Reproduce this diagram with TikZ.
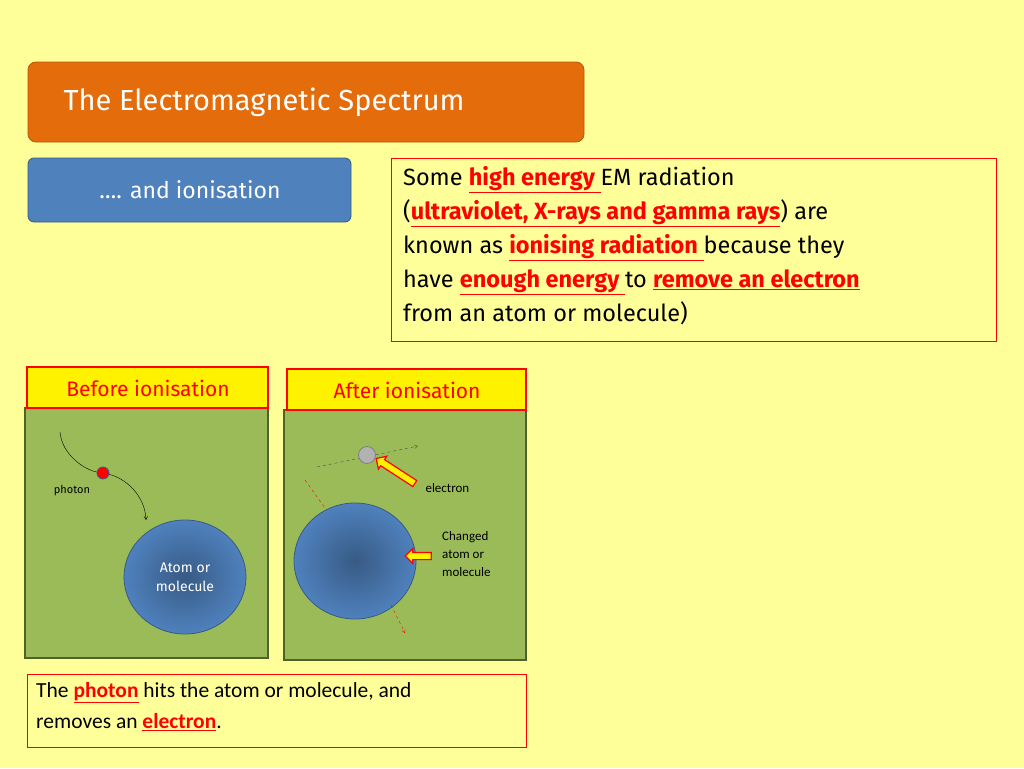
\documentclass[tikz,border=0pt]{standalone}
\usepackage{fontspec}
\setmainfont{Carlito}
\newfontfamily\comic{Fira Sans}
\usetikzlibrary{positioning, shapes, shapes.arrows, arrows}
\definecolor{bgyel}{HTML}{FFFF99}
\definecolor{orng}{HTML}{E46C0A}
\definecolor{blu}{HTML}{4F81BD}
\definecolor{grn}{HTML}{9BBB59}
\definecolor{dgrn}{HTML}{4F6228}
\newcommand{\hl}[1]{\textcolor{red}{\textbf{\underline{#1}}}}
\begin{document}
\begin{tikzpicture}[x=1pt, y=-1pt,
  panel/.style={draw=dgrn, very thick, fill=grn},
  tag/.style={draw=red, very thick, fill=yellow, text=red, font=\comic\fontsize{21}{24}\selectfont},
  atom/.style={ellipse, draw=blu!70!black, thick, inner color=blu!70!black, outer color=blu},
  yarrow/.style={single arrow, draw=red, very thick, fill=yellow, minimum height=#1, single arrow head extend=4pt, inner sep=3pt},
  small/.style={font=\fontsize{13}{18}\selectfont, align=left}]
  \fill[bgyel] (0,0) rectangle (1024,768);
  % heading
  \draw[rounded corners=8pt, draw=orng!80!black, thick, fill=orng] (28,62) rectangle (584,142);
  \node[text=white, anchor=west, font=\comic\fontsize{29}{34}\selectfont] (title) at (60,102) {The Electromagnetic Spectrum};
  \draw[rounded corners=6pt, draw=blu!70!black, thick, fill=blu] (28,158) rectangle (351,222);
  \node[text=white, font=\comic\fontsize{23}{28}\selectfont] (sub) at (190,190) {…. and ionisation};
  % explanation
  \draw[red, thick] (391,158) rectangle (996,341);
  \node[anchor=north west, align=left, inner sep=0pt, font=\comic\fontsize{23.5}{34}\selectfont] (expl) at (403,166)
    {Some \hl{high energy }EM radiation\\
     (\hl{ultraviolet, X-rays and gamma rays}) are\\
     known as \hl{ionising radiation }because they\\
     have \hl{enough energy }to \hl{remove an electron}\\
     from an atom or molecule)};
  % panels
  \draw[panel] (25,408) rectangle (268,658);
  \draw[panel] (284,410) rectangle (526,660);
  \draw[tag] (27,367) rectangle (268,408);
  \node[text=red, font=\comic\fontsize{21}{24}\selectfont] (before) at (148,388) {Before ionisation};
  \draw[tag] (287,369) rectangle (526,410);
  \node[text=red, font=\comic\fontsize{21}{24}\selectfont] (after) at (407,390) {After ionisation};
  % before
  \node[atom, minimum width=122, minimum height=114, text=white, align=center, font=\comic\fontsize{14}{19}\selectfont] (atomA) at (185,577) {Atom or\\molecule};
  \node[circle, fill=red, draw=blu!70!black, thick, minimum size=12, inner sep=0pt] (photon) at (103,473) {};
  \coordinate (pstart) at (60,432);
  \coordinate (pend) at (146,520);
  \draw (pstart) .. controls (62,455) and (85,470) .. (photon);
  \draw[->, >=angle 60] (photon) .. controls (125,478) and (145,495) .. (pend);
  \node[font=\comic\fontsize{11}{13}\selectfont] (plab) at (72,491) {photon};
  % after
  \node[atom, minimum width=122, minimum height=116] (atomB) at (355,561) {};
  \coordinate (e0) at (317,467);
  \coordinate (e1) at (418,446);
  \draw[dashed, black!70, ->, >=angle 60] (e0) -- (e1);
  \node[circle, fill=gray!60, draw=gray, thick, minimum size=17, inner sep=0pt] (elec) at (367,455) {};
  \coordinate (r0) at (305,480);
  \coordinate (r1) at (325,508);
  \coordinate (r2) at (391,605);
  \coordinate (r3) at (405,633);
  \draw[dashed, red] (r0) -- (r1);
  \draw[dashed, red, ->, >=angle 60] (r2) -- (r3);
  \node[yarrow=46, rotate=147] (ptr1) at (397,472) {};
  \node[yarrow=26, rotate=180] (ptr2) at (420,556) {};
  \node[small, anchor=west] (elab) at (422,488) {electron};
  \node[small, anchor=west, inner sep=0pt] (clab) at (442,554) {Changed\\atom or\\molecule};
  % caption
  \draw[red, thick] (27,674) rectangle (526,747);
  \node[anchor=north west, align=left, inner sep=0pt, font=\fontsize{21.5}{31}\selectfont] (cap) at (36,682)
    {The \hl{photon} hits the atom or molecule, and\\removes an \hl{electron}.};
\end{tikzpicture}
\end{document}
